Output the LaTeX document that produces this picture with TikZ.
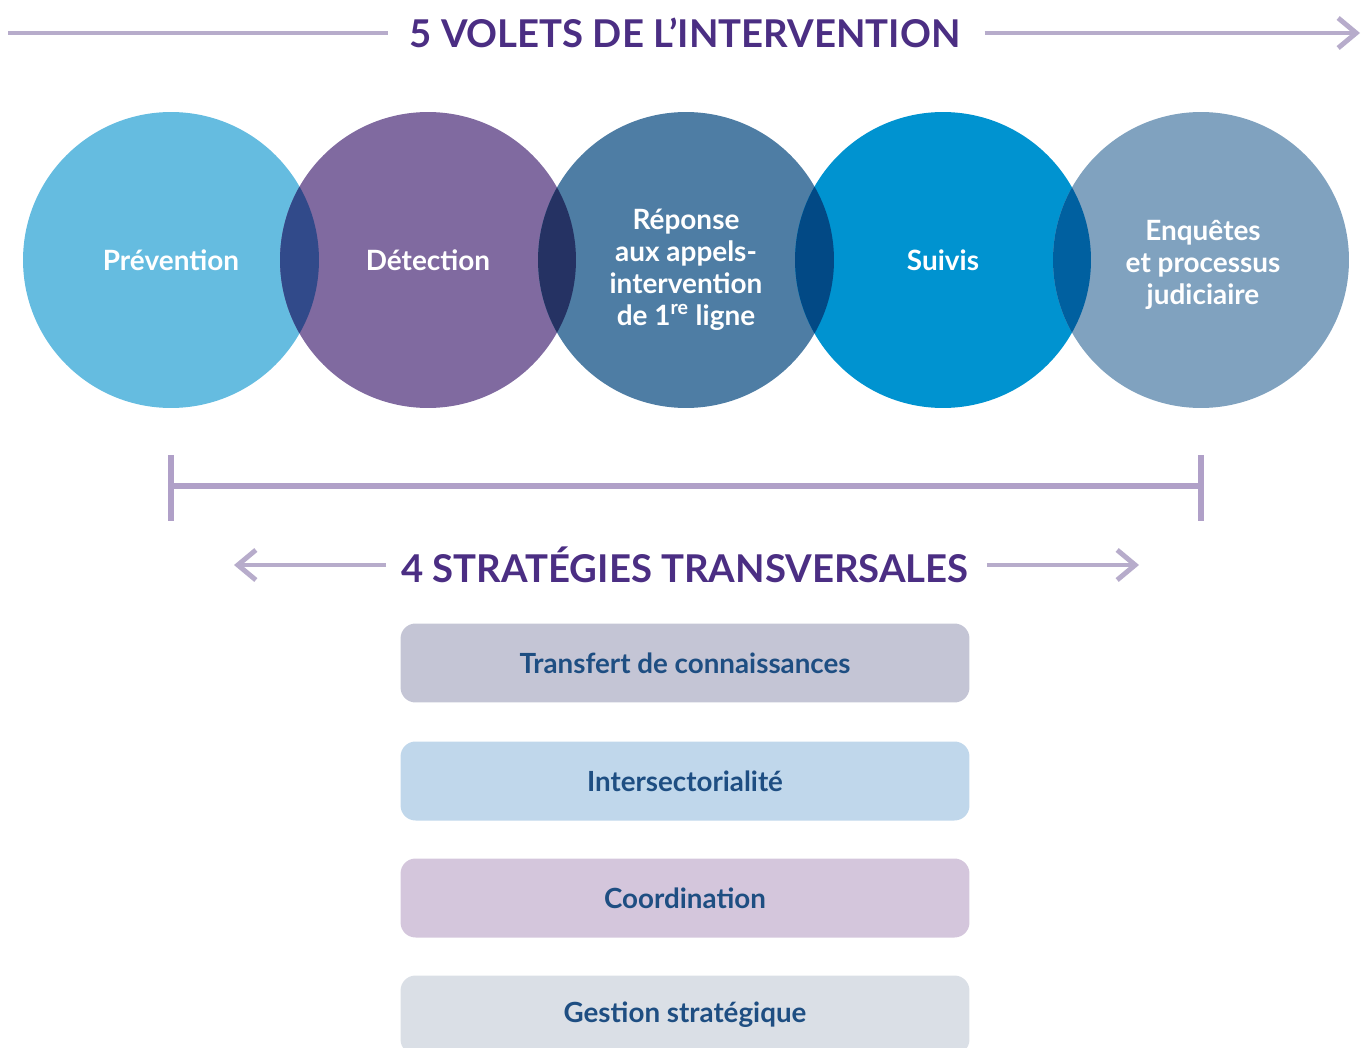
\documentclass[tikz,border=0pt]{standalone}
\usepackage{fontspec}
\setmainfont{Lato}
\usetikzlibrary{positioning,arrows.meta,shapes}
\definecolor{titlepurple}{RGB}{75,46,131}
\definecolor{barlilac}{RGB}{183,172,203}
\definecolor{brlilac}{RGB}{176,160,200}
\definecolor{boxtext}{RGB}{30,78,130}
\definecolor{cprev}{RGB}{101,188,224}
\definecolor{cdet}{RGB}{128,106,160}
\definecolor{crep}{RGB}{78,125,164}
\definecolor{csuiv}{RGB}{0,147,208}
\definecolor{cenq}{RGB}{128,162,191}
\definecolor{ovA}{RGB}{49,74,138}
\definecolor{ovB}{RGB}{37,50,99}
\definecolor{ovC}{RGB}{2,73,133}
\definecolor{ovD}{RGB}{0,96,160}
\definecolor{boxA}{RGB}{196,197,213}
\definecolor{boxB}{RGB}{192,215,235}
\definecolor{boxC}{RGB}{212,198,220}
\definecolor{boxD}{RGB}{218,223,230}
\def\rad{2.96cm}

\begin{document}
\begin{tikzpicture}[x=0.02cm,y=-0.02cm,
    volet/.style={circle,minimum size=5.92cm,inner sep=0pt},
    volettxt/.style={text=white,font=\bfseries\fontsize{15.9}{18.2}\selectfont,align=center},
    strat/.style={rounded corners=0.3cm,minimum width=11.38cm,minimum height=1.58cm,
      text=boxtext,font=\bfseries\fontsize{15.8}{18}\selectfont},
    heading/.style={text=titlepurple,font=\bfseries\fontsize{21.8}{25}\selectfont},
    arr/.style={line width=2.8pt,draw=barlilac,-{Straight Barb[length=0.36cm,width=0.6cm,line width=2.8pt]}},
    bar/.style={line width=3.2pt,draw=brlilac}]
    \useasboundingbox (0,0) rectangle (1371,1047);

    % Titre du haut
    \node[heading] (volets) at (685,33) {5 VOLETS DE L'INTERVENTION};
    \coordinate (vl) at (8,33);
    \coordinate (vr) at (1360,33);
    \draw[line width=2.8pt,draw=barlilac] (vl) -- ([xshift=-0.3cm]volets.west);
    \draw[arr] ([xshift=0.36cm]volets.east) -- (vr);

    % Les 5 volets
    \node[volet,fill=cprev] (prev) at (171,260) {};
    \node[volet,fill=cdet] (det) at (428,260) {};
    \node[volet,fill=crep] (rep) at (686,260) {};
    \node[volet,fill=csuiv] (suiv) at (943,260) {};
    \node[volet,fill=cenq] (enq) at (1201,260) {};

    % Zones de recouvrement
    \begin{scope}
      \clip (prev.center) circle (\rad);
      \fill[ovA] (det.center) circle (\rad);
    \end{scope}
    \begin{scope}
      \clip (det.center) circle (\rad);
      \fill[ovB] (rep.center) circle (\rad);
    \end{scope}
    \begin{scope}
      \clip (rep.center) circle (\rad);
      \fill[ovC] (suiv.center) circle (\rad);
    \end{scope}
    \begin{scope}
      \clip (suiv.center) circle (\rad);
      \fill[ovD] (enq.center) circle (\rad);
    \end{scope}

    % Textes des volets
    \node[volettxt] (prevtxt) at (prev) {Prévention};
    \node[volettxt] (dettxt) at (det) {Détection};
    \node[volettxt] (reptxt) at (686,270) {Réponse\\aux appels-\\intervention\\de 1\textsuperscript{re} ligne};
    \node[volettxt] (suivtxt) at (suiv) {Suivis};
    \node[volettxt] (enqtxt) at (1203,265) {Enquêtes\\et processus\\judiciaire};

    % Accolade
    \coordinate (bl) at (171,486);
    \coordinate (br) at (1201,486);
    \draw[bar] (bl) -- (br);
    \draw[bar] ([yshift=0.62cm]bl) -- ([yshift=-0.7cm]bl);
    \draw[bar] ([yshift=0.62cm]br) -- ([yshift=-0.7cm]br);

    % Titre du bas
    \node[heading] (strats) at (685,565) {4 STRATÉGIES TRANSVERSALES};
    \coordinate (sl) at (234,565);
    \coordinate (sr) at (1139,565);
    \draw[arr] ([xshift=-0.18cm]strats.west) -- (sl);
    \draw[arr] ([xshift=0.24cm]strats.east) -- (sr);

    % Les 4 strategies
    \node[strat,fill=boxA] (transfert) at (685,663) {Transfert de connaissances};
    \node[strat,fill=boxB] (inter) at (685,781) {Intersectorialité};
    \node[strat,fill=boxC] (coord) at (685,898) {Coordination};
    \node[strat,fill=boxD] (gestion) at (685,1015) {Gestion stratégique};
\end{tikzpicture}
\end{document}
